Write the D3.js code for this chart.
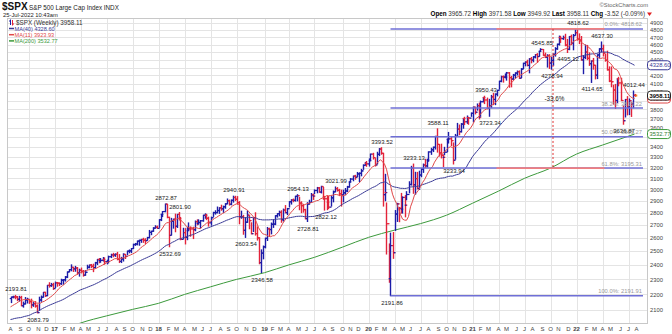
<!DOCTYPE html>
<html><head><meta charset="utf-8">
<script src="https://cdn.jsdelivr.net/npm/d3@7"></script>
<style>body{margin:0;background:#fff}svg{display:block}text{font-family:"Liberation Sans",Arial,sans-serif}</style>
</head><body><svg id="c" width="672" height="334"></svg>
<script>
// ---------- DATA ----------
// 39 weekly closes before the first drawn week (needed for the moving averages)
const priorCloses = [2099.20,2023.04,2089.17,2090.11,2091.69,2012.37,2005.55,2060.99,2043.94,1922.03,1880.33,1906.90,1940.24,1880.05,1864.78,1917.78,1948.05,1999.99,2022.19,2049.58,2035.94,2072.78,2047.60,2080.73,2091.58,2065.30,2057.14,2046.61,2052.32,2099.06,2099.13,2096.07,2071.22,2037.41,2102.95,2129.90,2161.74,2175.03,2173.60];
const firstWeek = "2016-08-01";
const closes = [
// 2016
2182.87,2184.05,2183.87,2169.04,2179.98,2127.81,2139.16,2164.69,2168.27,2153.74,2132.98,2141.16,2126.41,2085.18,2164.45,2181.90,2213.35,2191.95,2259.53,2258.07,2263.79,2238.83,
// 2017
2276.98,2274.64,2271.31,2294.69,2297.42,2316.10,2351.16,2367.34,2383.12,2372.60,2378.25,2343.98,2362.72,2355.54,2328.95,2348.69,2384.20,2399.29,2390.90,2381.73,2415.82,2439.07,2431.77,2433.15,2438.30,2423.41,2425.18,2459.27,2472.54,2472.10,2476.83,2441.32,2425.55,2443.05,2476.55,2461.43,2500.23,2502.22,2519.36,2549.33,2553.17,2575.21,2581.07,2587.84,2582.30,2578.85,2602.42,2642.22,2651.50,2675.81,2683.34,2673.61,
// 2018
2743.15,2786.24,2810.30,2872.87,2762.13,2619.55,2732.22,2747.30,2691.25,2786.57,2752.01,2588.26,2640.87,2604.47,2656.30,2670.14,2669.91,2663.42,2727.72,2712.97,2721.33,2734.62,2779.03,2779.66,2754.88,2718.37,2759.82,2801.31,2801.83,2818.82,2840.35,2833.28,2850.13,2874.69,2901.52,2871.68,2904.98,2929.67,2913.98,2885.57,2767.13,2767.78,2658.69,2723.06,2781.01,2736.27,2632.56,2760.17,2633.08,2599.95,2416.62,2485.74,2531.94,
// 2019
2596.26,2670.71,2664.76,2706.53,2707.88,2775.60,2792.67,2803.69,2743.07,2822.48,2800.71,2834.40,2892.74,2907.41,2905.03,2939.88,2945.64,2881.40,2859.53,2826.06,2752.06,2873.34,2886.98,2950.46,2941.76,2990.41,3013.77,2976.61,3025.86,2932.05,2918.65,2888.68,2847.11,2926.46,2978.71,3007.39,2992.07,2961.79,2952.01,2970.27,2986.20,3022.55,3066.91,3093.08,3120.46,3110.29,3140.98,3145.91,3168.80,3221.22,3240.02,3234.85,
// 2020
3265.35,3329.62,3295.47,3225.52,3327.71,3380.16,3337.75,2954.22,2972.37,2711.02,2304.92,2541.47,2488.65,2789.82,2874.56,2836.74,2830.71,2929.80,2863.70,2955.45,3044.31,3193.93,3041.31,3097.74,3009.05,3130.01,3185.04,3224.73,3215.63,3271.12,3351.28,3372.85,3397.16,3508.01,3426.96,3340.97,3319.47,3298.46,3348.44,3477.13,3483.81,3465.39,3269.96,3509.44,3585.15,3557.54,3638.35,3699.12,3663.46,3709.41,3703.06,3756.07,
// 2021
3824.68,3768.25,3841.47,3714.24,3886.83,3934.83,3906.71,3811.15,3841.94,3943.34,3913.10,3974.54,4019.87,4128.80,4185.47,4180.17,4181.17,4232.60,4173.85,4155.86,4204.11,4229.89,4247.44,4166.45,4280.70,4352.34,4369.55,4327.16,4411.79,4395.26,4436.52,4468.00,4441.67,4509.37,4535.43,4458.58,4432.99,4455.48,4357.04,4391.34,4471.37,4544.90,4605.38,4697.53,4682.85,4697.96,4594.62,4538.43,4712.02,4620.64,4725.79,4766.18,
// 2022
4677.03,4662.85,4397.94,4431.85,4500.53,4418.64,4348.87,4384.65,4328.87,4204.31,4463.12,4543.06,4545.86,4488.28,4392.59,4271.78,4131.93,4123.34,4023.89,3901.36,4158.24,4108.54,3900.86,3674.84,3911.74,3825.33,3899.38,3863.16,3961.63,3958.11];
const highs = [
// 2016
2182.87,2188.45,2193.81,2186.28,2187.94,2187.87,2151.00,2179.99,2175.30,2165.90,2169.60,2148.00,2154.00,2133.00,2182.30,2189.90,2213.35,2214.10,2259.80,2277.50,2273.00,2273.80,
// 2017
2282.10,2279.27,2276.11,2300.99,2299.02,2319.23,2351.31,2367.79,2400.98,2383.89,2390.01,2382.36,2370.42,2378.36,2361.37,2361.45,2398.16,2399.29,2403.87,2405.77,2418.71,2440.23,2446.20,2446.17,2453.82,2450.42,2434.27,2463.54,2477.62,2484.04,2480.38,2490.87,2474.93,2454.77,2480.38,2475.00,2500.23,2508.85,2519.44,2552.51,2557.65,2575.44,2582.98,2588.40,2597.02,2593.39,2604.21,2657.74,2651.65,2679.63,2694.97,2692.12,
// 2018
2743.45,2787.85,2810.33,2872.87,2870.05,2763.39,2754.42,2747.76,2789.15,2786.57,2801.90,2761.85,2674.78,2672.08,2680.26,2717.49,2683.55,2682.92,2732.86,2742.10,2742.24,2736.93,2779.90,2791.47,2786.85,2764.17,2764.41,2804.53,2816.76,2848.03,2842.72,2863.43,2855.63,2876.16,2916.50,2907.00,2908.30,2940.91,2939.86,2937.06,2894.00,2813.46,2778.94,2756.00,2815.15,2775.99,2718.55,2760.88,2800.18,2685.44,2601.13,2509.63,2538.07,
// 2019
2597.82,2681.26,2675.47,2716.66,2738.98,2775.66,2792.67,2813.49,2816.88,2830.73,2860.31,2836.40,2893.42,2910.54,2916.06,2939.88,2954.13,2931.00,2892.15,2868.00,2829.35,2884.90,2905.58,2964.15,2959.00,2996.00,3017.80,3017.40,3027.98,3017.19,2938.70,2943.31,2939.08,2940.40,2985.86,3021.99,3016.37,3001.00,2993.00,2993.28,3008.29,3027.39,3066.95,3097.77,3120.46,3127.64,3154.26,3150.60,3182.68,3225.65,3247.93,3258.14,
// 2020
3282.99,3329.88,3337.77,3285.91,3347.96,3385.09,3393.52,3337.58,3136.72,2882.59,2553.93,2637.01,2641.39,2818.57,2879.22,2844.90,2964.95,2934.70,2945.82,2980.29,3068.67,3211.72,3233.13,3155.53,3154.90,3165.81,3190.41,3233.36,3279.32,3279.99,3352.54,3387.89,3399.96,3509.44,3588.11,3425.55,3428.92,3320.31,3397.18,3482.34,3549.85,3502.42,3441.42,3529.05,3645.99,3628.51,3644.31,3699.20,3712.39,3726.70,3711.24,3760.20,
// 2021
3826.69,3823.60,3861.45,3870.90,3894.30,3937.23,3950.43,3928.65,3914.50,3960.27,3983.87,3978.19,4020.63,4129.48,4191.31,4194.17,4218.78,4238.04,4236.39,4188.72,4213.42,4233.45,4255.84,4257.16,4286.12,4355.43,4372.87,4393.68,4415.18,4429.97,4440.82,4468.00,4480.26,4513.33,4545.85,4535.40,4486.90,4465.40,4466.00,4429.97,4475.80,4559.67,4608.08,4718.50,4714.92,4717.75,4743.83,4672.95,4713.57,4731.99,4740.74,4808.93,
// 2022
4818.62,4748.83,4712.30,4453.23,4595.31,4590.03,4490.40,4385.04,4416.78,4327.01,4465.40,4546.03,4637.30,4593.45,4471.00,4512.94,4308.45,4307.66,4081.70,4090.72,4158.49,4177.51,4164.86,3837.56,3913.65,3945.86,3918.50,3880.94,4012.44,3971.58];
const lows = [
// 2016
2147.58,2177.97,2172.00,2160.00,2157.00,2127.81,2119.12,2139.00,2145.00,2142.60,2114.72,2124.00,2119.00,2083.79,2100.00,2156.00,2183.00,2187.00,2192.00,2248.00,2253.00,2233.00,
// 2017
2245.13,2254.25,2258.41,2266.09,2267.21,2288.54,2312.31,2352.87,2358.96,2354.54,2356.05,2335.75,2322.25,2344.51,2322.25,2328.28,2371.54,2379.75,2381.00,2353.18,2379.00,2403.19,2415.70,2419.38,2428.00,2405.70,2407.70,2415.00,2453.00,2459.00,2462.00,2437.00,2417.35,2417.35,2428.20,2446.55,2474.00,2488.00,2489.00,2520.40,2543.00,2547.00,2544.00,2566.00,2566.00,2557.45,2582.00,2600.00,2624.75,2651.00,2676.00,2673.61,
// 2018
2682.36,2736.06,2768.64,2808.32,2759.14,2532.69,2622.45,2675.75,2647.32,2681.19,2741.00,2585.89,2593.06,2553.80,2586.27,2660.00,2612.67,2594.62,2655.00,2701.91,2707.38,2676.81,2731.00,2755.00,2744.00,2691.99,2698.95,2770.00,2789.00,2799.00,2795.14,2821.00,2802.49,2838.00,2876.00,2864.12,2867.00,2889.45,2903.00,2874.00,2710.51,2755.00,2628.16,2603.54,2722.00,2670.75,2631.09,2649.51,2621.53,2583.23,2408.55,2346.58,2443.96,
// 2019
2524.56,2580.07,2612.86,2631.05,2681.83,2703.79,2764.55,2775.13,2722.27,2732.53,2800.71,2785.02,2848.63,2873.00,2893.00,2898.21,2900.50,2825.39,2801.43,2805.49,2750.52,2728.81,2873.00,2887.00,2912.50,2963.00,2970.00,2975.00,2969.00,2914.00,2822.12,2825.71,2834.97,2856.00,2891.85,2979.40,2985.00,2945.50,2855.96,2892.00,2952.86,2981.00,3020.00,3066.90,3077.60,3091.41,3117.00,3070.33,3123.00,3183.00,3223.00,3212.00,
// 2020
3214.64,3268.43,3281.53,3214.68,3235.53,3315.00,3328.45,2855.84,2901.54,2478.86,2280.52,2191.86,2447.49,2657.67,2729.27,2727.10,2797.51,2797.85,2766.64,2909.70,2969.75,3038.78,2965.66,2958.08,3004.63,2999.49,3115.01,3154.90,3200.00,3204.13,3260.00,3327.42,3354.69,3379.97,3349.63,3310.47,3292.40,3209.45,3323.69,3354.54,3440.45,3415.70,3233.94,3279.74,3511.91,3525.87,3554.37,3594.39,3633.40,3645.84,3636.48,3723.01,
// 2021
3662.71,3749.62,3791.50,3694.12,3725.62,3884.94,3865.38,3805.59,3723.34,3819.25,3853.50,3853.50,3955.00,4034.00,4123.00,4118.38,4170.42,4142.70,4056.88,4061.41,4152.20,4167.60,4206.50,4164.40,4173.50,4286.00,4321.80,4321.00,4233.13,4360.00,4373.00,4424.00,4367.73,4446.00,4513.00,4458.00,4427.80,4305.90,4288.50,4278.94,4329.00,4447.50,4537.00,4595.00,4630.90,4672.80,4585.40,4495.12,4532.50,4600.20,4531.10,4733.00,
// 2022
4662.74,4614.75,4395.34,4222.62,4414.02,4401.41,4327.22,4114.65,4279.54,4157.87,4161.72,4424.30,4506.27,4450.04,4381.34,4267.62,4124.28,4062.51,3858.87,3810.32,3875.13,4073.85,3900.16,3636.87,3715.67,3738.67,3742.06,3721.56,3818.63,3949.92];

// MA(200) (quarterly points)
const ma200Dates = ["2017-03-06","2017-04-03","2017-07-03","2017-10-02","2018-01-01","2018-04-02","2018-07-02","2018-10-01","2019-01-07","2019-04-01","2019-07-01","2019-10-07","2020-01-06","2020-04-06","2020-07-06","2020-10-05","2021-01-04","2021-04-05","2021-07-05","2021-10-04","2022-01-03","2022-04-04","2022-07-25"];
const ma200Values = [2005,2022,2065,2105,2143,2200,2250,2300,2346,2400,2455,2530,2604,2660,2712,2780,2880,2985,3100,3195,3330,3420,3532.77];

const yTickValues = [2100,2200,2300,2400,2500,2600,2700,2800,2900,3000,3100,3200,3300,3400,3500,3600,3700,3800,3900,4000,4100,4200,4300,4400,4500,4600,4700,4800,4900];
const monthLetters = ["J","F","M","A","M","J","J","A","S","O","N","D"];

const fibNames = ["0.0%","38.2%","50.0%","61.8%","100.0%"];
const fibPrices = [4818.62,3815.22,3505.27,3195.31,2191.91];
const fibStart = "2020-03-23";

const annoDates  = ["2016-08-15","2016-10-31","2018-01-22","2018-03-12","2018-02-05","2018-09-17","2018-10-29","2018-12-24","2019-04-29","2019-06-03","2019-09-09","2019-08-05","2020-02-17","2020-03-23","2020-06-08","2020-08-31","2020-10-26","2021-02-15","2021-03-01","2021-08-30","2021-10-04","2021-11-29","2022-01-03","2022-03-28","2022-02-21","2022-07-18","2022-06-13"];
const annoLabels = ["2193.81","2083.79","2872.87","2801.90","2532.69","2940.91","2603.54","2346.58","2954.13","2728.81","3021.99","2822.12","3393.52","2191.86","3233.13","3588.11","3233.94","3950.43","3723.34","4545.85","4278.94","4495.12","4818.62","4637.30","4114.65","4012.44","3636.87"];
const annoSides  = ["hi","lo","hi","hi","lo","hi","lo","lo","hi","lo","hi","lo","hi","lo","hi","hi","lo","hi","lo","hi","lo","lo","hi","hi","lo","hi","lo"];

const measureStart = "2021-03-29", measureEnd = "2022-04-11", measureMid = "2021-10-11";
const measureTop = 4818.62, measureBottom = 3195.31, measureLabel = "-33.6%";

const titleSymbol = "$SPX", titleName = "S&P 500 Large Cap Index INDX", titleDate = "25-Jul-2022 10:43am";
const quoteLabels = ["Open","High","Low","Last","Chg"];
const quoteValues = ["3965.72","3971.58","3949.92","3958.11","-3.52 (-0.09%)"];

// ---------- LAYOUT ----------
const P = {l:7, r:647, t:18, b:323};
const C = {up:"#1c1ca8", down:"#e3233a", ma40:"#3a3a96", ma11:"#e04848", ma200:"#3c9a3c", fib:"#6f6fd6", meas:"#f07f7f", grid:"#e4e4e4", axis:"#444"};
const svg = d3.select("#c");
const pd = d3.utcParse("%Y-%m-%d");

const dates = d3.utcMonday.range(pd(firstWeek), d3.utcDay.offset(pd("2022-07-25"),1));
const x = d3.scaleUtc().domain([dates[0], dates[dates.length-1]]).range([10.5, 634.5]);
const y = d3.scaleLog().domain([2022.1, 4977.2]).range([P.b, P.t]);

svg.append("defs").append("clipPath").attr("id","clip").append("rect")
  .attr("x",P.l).attr("y",P.t).attr("width",P.r-P.l).attr("height",P.b-P.t);

// grid
const g = svg.append("g");
g.selectAll(".hg").data(yTickValues).join("line")
  .attr("x1",P.l).attr("x2",P.r).attr("y1",d=>Math.round(y(d))+0.5).attr("y2",d=>Math.round(y(d))+0.5)
  .attr("stroke",C.grid).attr("stroke-width",1);
const months = d3.utcMonth.range(pd("2016-08-01"), pd("2022-09-01"));
const monthPos = months.map(m => ({m, d: d3.utcMonday.ceil(m)}));
g.selectAll(".vg").data(monthPos.filter(o=>o.m.getUTCMonth()%3===0)).join("line")
  .attr("x1",o=>Math.round(x(o.d))+0.5).attr("x2",o=>Math.round(x(o.d))+0.5)
  .attr("y1",P.t).attr("y2",P.b).attr("stroke",C.grid);
// frame
svg.append("rect").attr("x",P.l+0.5).attr("y",P.t+0.5).attr("width",P.r-P.l).attr("height",P.b-P.t)
  .attr("fill","none").attr("stroke","#c8c8c8");

const plot = svg.append("g").attr("clip-path","url(#clip)");

// MA200
const ma200 = ma200Dates.map((d,i)=>({d:pd(d), v:ma200Values[i]}));
plot.append("path").datum(ma200).attr("fill","none").attr("stroke",C.ma200).attr("stroke-width",1)
  .attr("d", d3.line().x(o=>x(o.d)).y(o=>y(o.v)).curve(d3.curveMonotoneX));

// Fibonacci lines
const fx0 = x(pd(fibStart));
fibPrices.forEach((p,i)=>{
  const yy = y(p);
  svg.append("line").attr("x1",fx0).attr("x2",643).attr("y1",yy).attr("y2",yy)
    .attr("stroke",C.fib).attr("stroke-width",1.6);
});
// measurement annotation
[measureTop, measureBottom].forEach(p=>{
  svg.append("line").attr("x1",x(pd(measureStart))).attr("x2",x(pd(measureEnd)))
    .attr("y1",y(p)).attr("y2",y(p)).attr("stroke",C.meas).attr("stroke-width",1.8);
});
svg.append("line").attr("x1",x(pd(measureMid))+0.5).attr("x2",x(pd(measureMid))+0.5)
  .attr("y1",y(measureTop)).attr("y2",y(measureBottom)).attr("stroke","#e03030")
  .attr("stroke-width",1).attr("stroke-dasharray","2,2");
svg.append("text").attr("x",x(pd(measureMid))+2).attr("y",y(Math.sqrt(measureTop*measureBottom))+2.5)
  .attr("text-anchor","middle").attr("font-size",6.3).attr("fill","#222").text(measureLabel);

// fib labels
fibPrices.forEach((p,i)=>{
  svg.append("text").attr("x",642).attr("y",y(p)-2.5).attr("text-anchor","end")
    .attr("font-size",5.8).attr("fill","#9a9a9a").text(fibNames[i]+": "+d3.format(".2f")(p));
});

// bars
const bars = dates.map((d,i)=>({d, h:highs[i], l:lows[i], c:closes[i],
  o: i===0 ? priorCloses[priorCloses.length-1] : closes[i-1]}));
const bg = plot.append("g");
bars.forEach((b,i)=>{
  const col = b.c >= b.o ? C.up : C.down;
  const xx = Math.round(x(b.d))+0.5;
  bg.append("line").attr("x1",xx).attr("x2",xx).attr("y1",y(b.h)-0.5).attr("y2",y(b.l)+0.5)
    .attr("stroke",col).attr("stroke-width",1.4);
  bg.append("line").attr("x1",xx-1.8).attr("x2",xx).attr("y1",y(b.o)).attr("y2",y(b.o))
    .attr("stroke",col).attr("stroke-width",1.2);
  bg.append("line").attr("x1",xx).attr("x2",xx+1.8).attr("y1",y(b.c)).attr("y2",y(b.c))
    .attr("stroke", i===bars.length-1 ? "#f39019" : col).attr("stroke-width", i===bars.length-1 ? 1.8 : 1.2);
});

// moving averages
const all = priorCloses.concat(closes), off = priorCloses.length;
function sma(n){ return dates.map((d,i)=>{ const e=i+off; const s=e-n+1; return {d, v:d3.mean(all.slice(Math.max(0,s), e+1))}; }); }
const ma40 = sma(40), ma11 = sma(11);
plot.append("path").datum(ma40).attr("fill","none").attr("stroke",C.ma40).attr("stroke-width",1)
  .attr("d", d3.line().x(o=>x(o.d)).y(o=>y(o.v)));
plot.append("path").datum(ma11).attr("fill","none").attr("stroke",C.ma11).attr("stroke-width",1)
  .attr("d", d3.line().x(o=>x(o.d)).y(o=>y(o.v)));

// price annotations
annoDates.forEach((d,i)=>{
  const idx = dates.findIndex(t=>+t===+pd(d));
  const hi = annoSides[i]==="hi";
  const p = hi ? highs[idx] : lows[idx];
  svg.append("text").attr("x",x(pd(d))+1.5).attr("y", hi ? y(p)-4 : y(p)+9)
    .attr("text-anchor","middle").attr("font-family","Liberation Serif, Times New Roman, serif")
    .attr("font-size",6).attr("fill","#222").text(annoLabels[i]);
});

// y axis labels
svg.selectAll(".yl").data(yTickValues).join("text")
  .attr("x",650).attr("y",d=>y(d)+2.2).attr("font-size",5.8).attr("fill",C.axis).text(d=>d);

// right tags
const last = closes.length-1;
const lastMA200 = ma200Values[ma200Values.length-1];
function tag(v, stroke, fill, bold){
  const yy = y(v);
  svg.append("rect").attr("x",647.5).attr("y",yy-4.5).attr("width",23).attr("height",9).attr("rx",3)
    .attr("fill","#fff").attr("stroke",stroke).attr("stroke-width",1);
  svg.append("text").attr("x",649.5).attr("y",yy+2.2).attr("font-size",5.8).attr("fill",fill)
    .attr("font-weight",bold?"bold":"normal").text(d3.format(".2f")(v));
}
tag(lastMA200, C.ma200, "#2e7d2e", false);
tag(ma11[last].v, C.ma11, C.ma11, false);
tag(ma40[last].v, C.ma40, C.ma40, false);
tag(closes[last], "#222", "#000", true);

// x axis labels
svg.selectAll(".xl").data(monthPos.filter(o=>x(o.d)<=642)).join("text")
  .attr("x",o=>x(o.d)).attr("y",331).attr("text-anchor","middle").attr("font-size",6)
  .attr("fill",C.axis).attr("font-weight",o=>o.m.getUTCMonth()===0?"bold":"normal")
  .text(o=>o.m.getUTCMonth()===0 ? d3.utcFormat("%y")(o.m) : monthLetters[o.m.getUTCMonth()]);

// header
svg.append("text").attr("x",2).attr("y",10).attr("font-size",10).attr("font-weight","bold").attr("fill","#111").text(titleSymbol);
svg.append("text").attr("x",29).attr("y",9.5).attr("font-size",6.3).attr("fill","#222").text(titleName);
svg.append("text").attr("x",3).attr("y",16.5).attr("font-size",5.8).attr("fill","#222").text(titleDate);
svg.append("text").attr("x",648).attr("y",7).attr("text-anchor","end").attr("font-size",5.8).attr("fill","#666").text("\u00a9StockCharts.com");
const q = svg.append("text").attr("x",645).attr("y",15.5).attr("text-anchor","end").attr("font-size",6.3).attr("fill","#333");
quoteLabels.forEach((l,i)=>{
  q.append("tspan").attr("font-weight","bold").attr("fill","#000").text((i?"  ":"")+l+" ");
  q.append("tspan").text(quoteValues[i]);
});
svg.append("path").attr("d","M647,12.5 L652,12.5 L649.5,16 Z").attr("fill","#e02020");

// legend
const lg = svg.append("g");
lg.append("line").attr("x1",10.5).attr("x2",10.5).attr("y1",19.5).attr("y2",25).attr("stroke",C.up);
lg.append("line").attr("x1",9).attr("x2",10.5).attr("y1",21).attr("y2",21).attr("stroke",C.up);
lg.append("line").attr("x1",12.5).attr("x2",12.5).attr("y1",20).attr("y2",25.5).attr("stroke",C.down);
lg.append("line").attr("x1",12.5).attr("x2",14).attr("y1",24).attr("y2",24).attr("stroke",C.down);
lg.append("text").attr("x",16).attr("y",25).attr("font-family","DejaVu Sans").attr("font-size",6.3).attr("fill","#333")
  .text("$SPX (Weekly) " + d3.format(".2f")(closes[last]));
const legendItems = [["MA(40)", ma40[last].v, C.ma40],["MA(11)", ma11[last].v, C.ma11],["MA(200)", lastMA200, C.ma200]];
legendItems.forEach((it,i)=>{
  const yy = 30.5 + i*6.2;
  lg.append("line").attr("x1",9).attr("x2",14).attr("y1",yy-2).attr("y2",yy-2).attr("stroke",it[2]).attr("stroke-width",1.5);
  lg.append("text").attr("x",14.5).attr("y",yy).attr("font-size",5.6).attr("fill",it[2]).text(it[0]+" "+d3.format(".2f")(it[1]));
});
</script></body></html>
